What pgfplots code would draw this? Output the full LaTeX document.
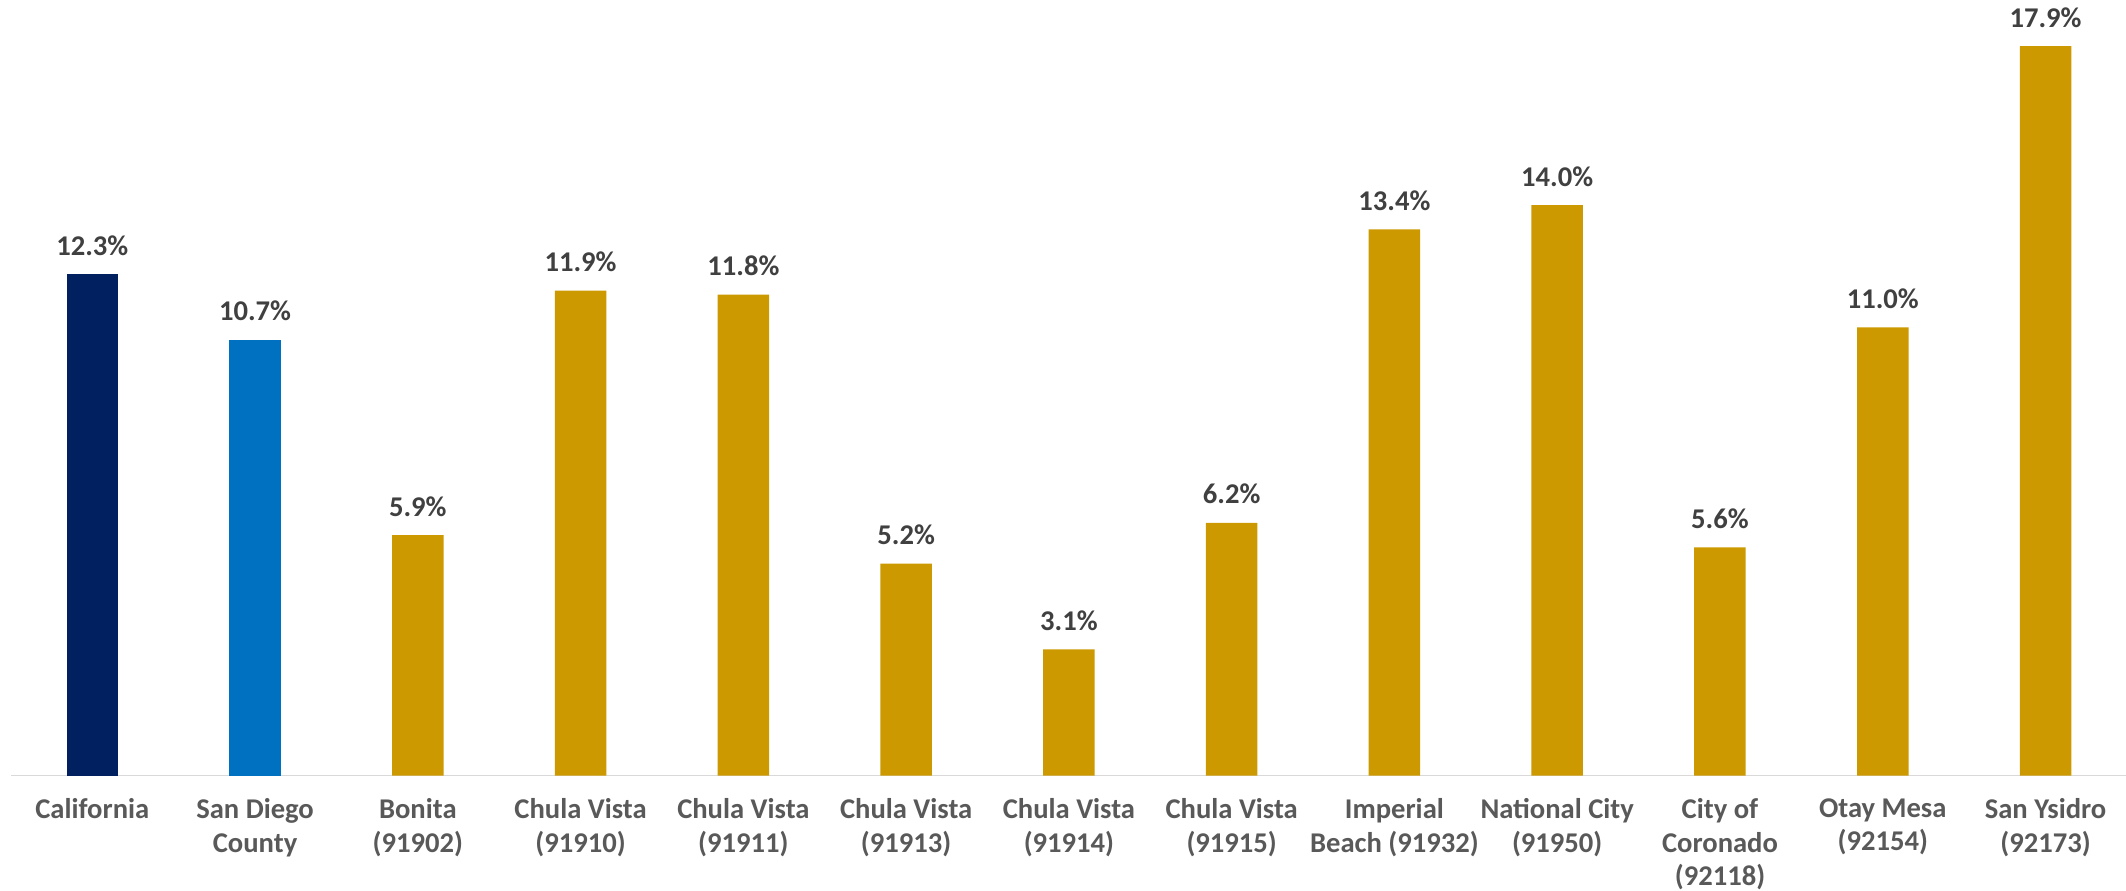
\documentclass[border=0pt]{standalone}
\usepackage{fontspec}
\setmainfont{Carlito}
\usepackage{pgfplots}
\pgfplotsset{compat=1.18}
\definecolor{cnavy}{HTML}{002060}
\definecolor{cblue}{HTML}{0070C0}
\definecolor{cgold}{HTML}{CC9900}
\definecolor{datagray}{HTML}{404040}
\definecolor{labelgray}{HTML}{595959}
\definecolor{linegray}{HTML}{D9D9D9}
\begin{document}
\begin{tikzpicture}
\begin{axis}[
  scale only axis, width=1058pt, height=387.8pt,
  xmin=-0.5, xmax=12.5, ymin=0, ymax=19.03,
  axis y line=none, axis x line*=bottom,
  x axis line style={draw=linegray, line width=0.8pt, -},
  xtick={0,...,12},
  xticklabels={California, {San Diego\\County}, {Bonita\\(91902)}, {Chula Vista\\(91910)}, {Chula Vista\\(91911)}, {Chula Vista\\(91913)}, {Chula Vista\\(91914)}, {Chula Vista\\(91915)}, {Imperial\\Beach (91932)}, {National City\\(91950)}, {City of\\Coronado\\(92118)}, {Otay Mesa\\(92154)}, {San Ysidro\\(92173)}},
  major tick length=0pt,
  xticklabel style={font=\bfseries\fontsize{14.3}{16.7}\selectfont, text=labelgray, align=center, anchor=north, inner sep=0pt, yshift=-11.3pt},
  ybar, bar width=25.75pt, bar shift=0pt,
  nodes near coords={\pgfmathprintnumber[fixed,fixed zerofill,precision=1]{\pgfplotspointmeta}\%},
  nodes near coords style={font=\bfseries\fontsize{14.3}{16.7}\selectfont, text=datagray, anchor=base, yshift=9.5pt, inner sep=0pt},
  /pgf/number format/assume math mode=true,
  clip=false,
]
\addplot[fill=cnavy, draw=none] coordinates {(0,12.3)};
\addplot[fill=cblue, draw=none] coordinates {(1,10.7)};
\addplot[fill=cgold, draw=none] coordinates {(2,5.9) (3,11.9) (4,11.8) (5,5.2) (6,3.1) (7,6.2) (8,13.4) (9,14.0) (10,5.6) (11,11.0) (12,17.9)};
\end{axis}
\pgfresetboundingbox
\path (-5.45pt,-57.2pt) rectangle (1057.55pt,387.8pt);
\end{tikzpicture}
\end{document}
